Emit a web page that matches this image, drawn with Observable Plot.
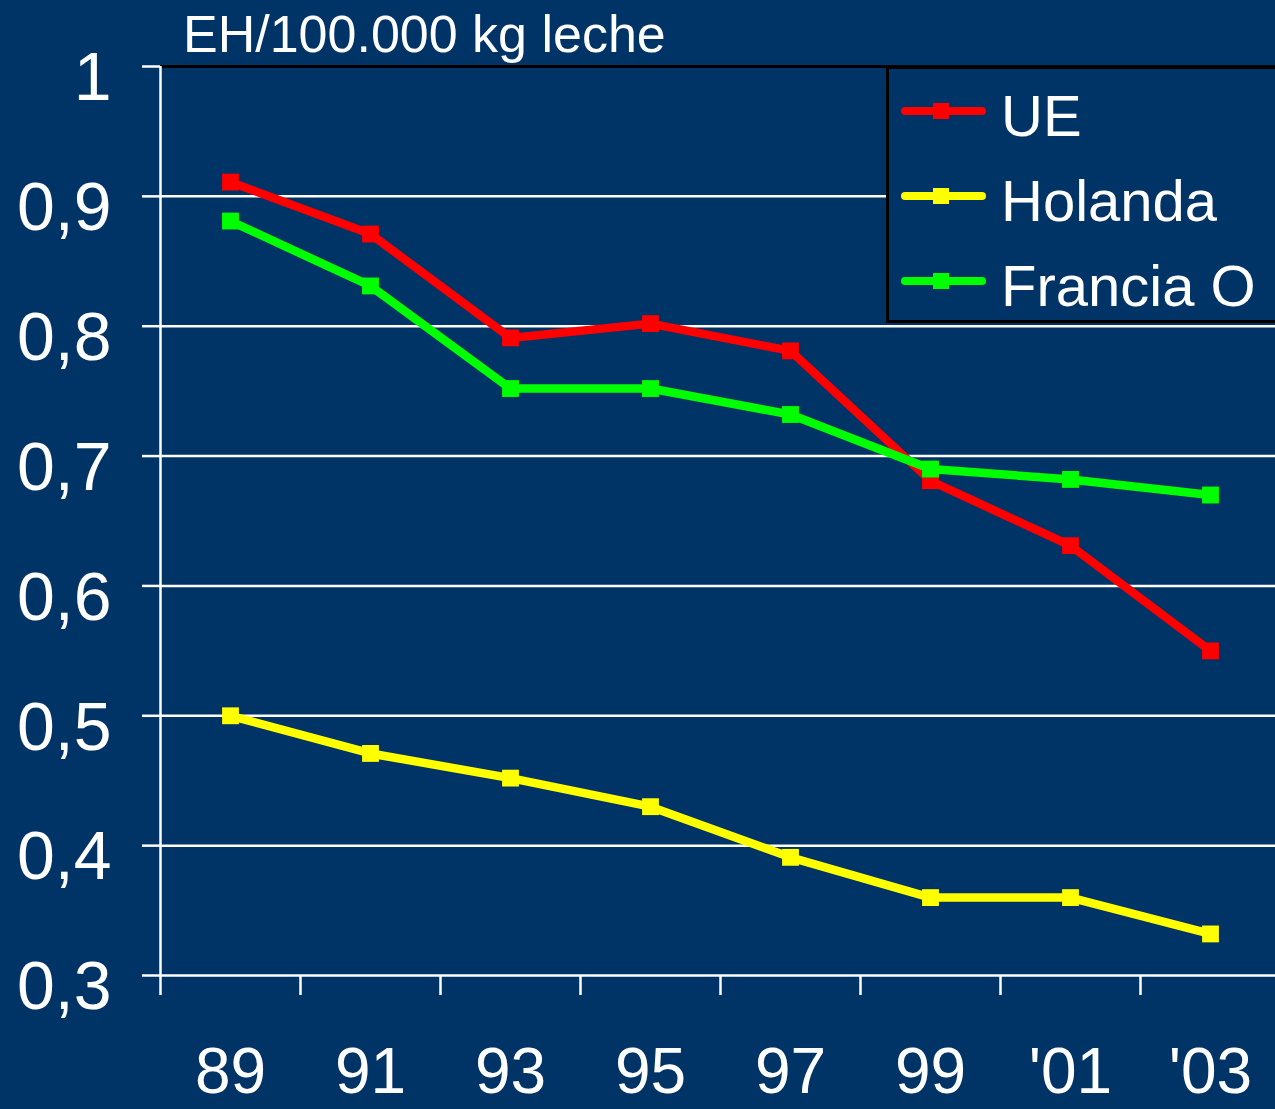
<!DOCTYPE html>
<html><head><meta charset="utf-8">
<script src="https://cdn.jsdelivr.net/npm/d3@7"></script>
<script src="https://cdn.jsdelivr.net/npm/@observablehq/plot@0.6"></script>
<style>
html,body{margin:0;padding:0;background:#003366;overflow:hidden;width:1275px;height:1109px}
#wrap{position:relative;width:1275px;height:1109px;overflow:hidden;font-family:"Liberation Sans",Arial,sans-serif;color:#fff}
#chart{position:absolute;left:0;top:0;width:1280px}
#chart svg{max-width:none !important}
#title{position:absolute;left:183px;top:8px;font-size:52px;line-height:1;white-space:nowrap}
#legendBox{position:absolute;left:886px;top:66px;width:400px;height:257px;border:3px solid #000;box-sizing:border-box;background:#003366}
.lgText{position:absolute;left:1001px;font-size:58px;line-height:58px;white-space:nowrap}
.lgSw{position:absolute;left:896px}
</style></head>
<body><div id="wrap"><div id="chart"></div><div id="title"></div><div id="legendBox"></div></div>
<script>
const years = ["89", "91", "93", "95", "97", "99", "'01", "'03"];
const seriesNames = ["UE", "Holanda", "Francia O"];
const seriesColors = ["#ff0000", "#ffff00", "#00ff00"];
const ue = [0.911, 0.871, 0.791, 0.802, 0.781, 0.681, 0.631, 0.550];
const holanda = [0.500, 0.471, 0.452, 0.430, 0.391, 0.360, 0.360, 0.332];
const francia = [0.881, 0.831, 0.752, 0.752, 0.732, 0.690, 0.682, 0.670];
const yTicks = [0.3, 0.4, 0.5, 0.6, 0.7, 0.8, 0.9, 1];
const titleText = "EH/100.000 kg leche";

const seriesValues = [ue, holanda, francia];
const rows = seriesNames.flatMap((s, k) => seriesValues[k].map((v, i) => ({series: s, x: i + 0.5, value: v})));

const seriesMarks = seriesNames.flatMap((s, k) => {
  const d = rows.filter(r => r.series === s);
  return [
    Plot.line(d, {x: "x", y: "value", stroke: seriesColors[k], strokeWidth: 8.5, strokeLinejoin: "round"}),
    Plot.dot(d, {x: "x", y: "value", symbol: "square", r: 9.5, fill: seriesColors[k], stroke: "none"})
  ];
});

const chart = Plot.plot({
  width: 1280, height: 1109,
  marginLeft: 160, marginRight: 0, marginTop: 66, marginBottom: 134,
  style: {background: "transparent", color: "#fff", fontFamily: "Liberation Sans, Arial, sans-serif", overflow: "visible", maxWidth: "none"},
  x: {type: "linear", domain: [0, years.length]},
  y: {domain: [0.3, 1]},
  marks: [
    Plot.ruleY(yTicks.filter(d => d > 0.3 && d < 1), {stroke: "#fff", strokeWidth: 2.5}),
    Plot.ruleY([1], {stroke: "#000", strokeWidth: 3}),
    Plot.ruleY([0.3], {stroke: "#fff", strokeWidth: 2.5}),
    Plot.ruleX([0], {y1: 0.3, y2: 1, stroke: "#fff", strokeWidth: 2.5}),
    Plot.axisY({ticks: yTicks, tickSize: 18, strokeWidth: 2.5, tickFormat: () => "", label: null}),
    Plot.axisY({ticks: yTicks, tickSize: 0, tickPadding: 49,
      tickFormat: d => d === 1 ? "1" : d.toFixed(1).replace(".", ","), fontSize: 68, dy: 12, label: null}),
    Plot.axisX({ticks: d3.range(years.length + 1), tickSize: 20, strokeWidth: 2.5, tickFormat: () => "", label: null}),
    Plot.axisX({ticks: years.map((_, i) => i + 0.5), tickSize: 0, tickPadding: 72,
      tickFormat: t => years[Math.floor(t)], fontSize: 64, label: null}),
    ...seriesMarks
  ]
});
document.getElementById("chart").appendChild(chart);
document.getElementById("title").textContent = titleText;

// legend
const wrap = document.getElementById("wrap");
const lgLineY = [111, 196, 281];
seriesNames.forEach((s, k) => {
  const ns = "http://www.w3.org/2000/svg";
  const svg = document.createElementNS(ns, "svg");
  svg.setAttribute("width", 100); svg.setAttribute("height", 30);
  svg.setAttribute("class", "lgSw");
  svg.style.top = (lgLineY[k] - 15) + "px";
  const ln = document.createElementNS(ns, "line");
  ln.setAttribute("x1", 9); ln.setAttribute("x2", 86); ln.setAttribute("y1", 15); ln.setAttribute("y2", 15);
  ln.setAttribute("stroke", seriesColors[k]); ln.setAttribute("stroke-width", 8); ln.setAttribute("stroke-linecap", "round");
  const rc = document.createElementNS(ns, "rect");
  rc.setAttribute("x", 37); rc.setAttribute("y", 7); rc.setAttribute("width", 16); rc.setAttribute("height", 16);
  rc.setAttribute("fill", seriesColors[k]);
  svg.appendChild(ln); svg.appendChild(rc);
  wrap.appendChild(svg);
  const t = document.createElement("div");
  t.className = "lgText";
  t.textContent = s;
  t.style.top = (lgLineY[k] + 3 - 27) + "px";
  wrap.appendChild(t);
});
</script>
</body></html>
